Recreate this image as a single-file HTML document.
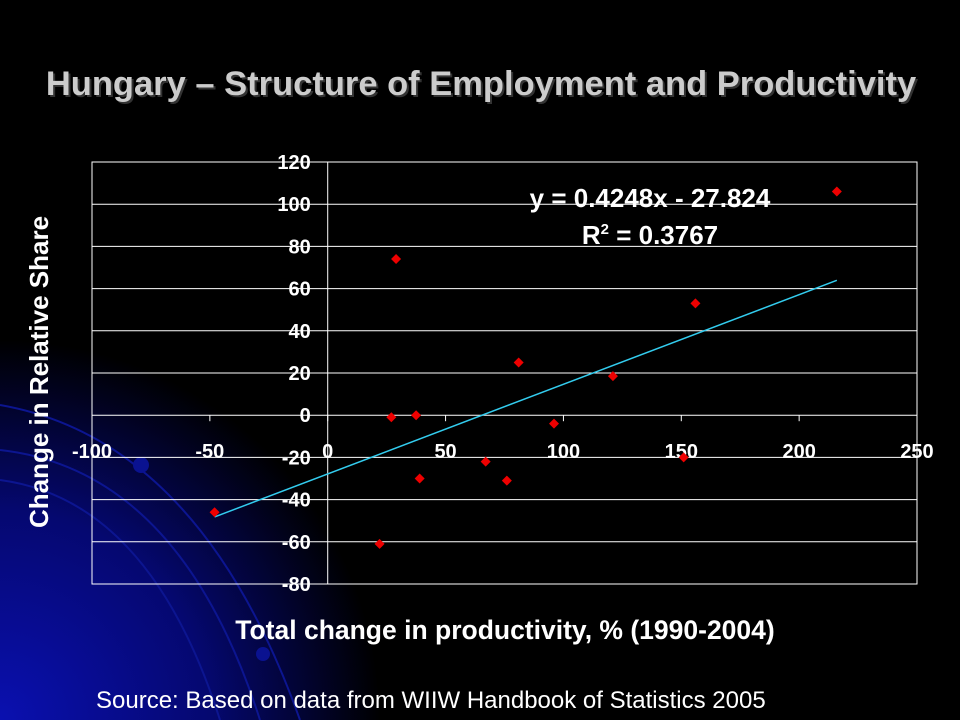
<!DOCTYPE html>
<html><head><meta charset="utf-8"><style>
html,body{margin:0;padding:0;background:#000;}
#wrap{position:relative;width:960px;height:720px;overflow:hidden;background:#000;font-family:"Liberation Sans",sans-serif;}
</style></head><body>
<div id="wrap">
<svg id="chart" width="960" height="720" xmlns="http://www.w3.org/2000/svg">
<defs>
<radialGradient id="bg" cx="0" cy="720" r="380" gradientUnits="userSpaceOnUse">
<stop offset="0" stop-color="#0a10b0"/><stop offset="0.55" stop-color="#050870"/><stop offset="1" stop-color="#000"/>
</radialGradient>
</defs>
<rect x="0" y="0" width="960" height="720" fill="url(#bg)"/>
<g fill="none" stroke="#0c1590" stroke-width="2">
<path d="M0,405 Q200,440 300,720"/>
<path d="M0,450 Q180,470 260,720"/>
<path d="M0,480 Q150,500 220,720"/>
</g>
<circle cx="141" cy="465" r="8" fill="#0a1290"/>
<circle cx="263" cy="654" r="7" fill="#0a1290"/>
<text x="481" y="95" text-anchor="middle" font-size="34.5" font-weight="bold" fill="#cccccc" style="text-shadow:2px 2px 0 #333">Hungary – Structure of Employment and Productivity</text>
<g id="plot"></g>
<text transform="translate(48,372) rotate(-90)" text-anchor="middle" font-size="26" font-weight="bold" fill="#fff">Change in Relative Share</text>
<text x="505" y="639" text-anchor="middle" font-size="26.5" font-weight="bold" fill="#fff">Total change in productivity, % (1990-2004)</text>
<text x="96" y="708" font-size="24" fill="#fff">Source: Based on data from WIIW Handbook of Statistics 2005</text>
<text x="650" y="207" text-anchor="middle" font-size="26" font-weight="bold" fill="#fff">y = 0.4248x - 27.824</text>
<text x="650" y="244" text-anchor="middle" font-size="26" font-weight="bold" fill="#fff">R<tspan dy="-10" font-size="15">2</tspan><tspan dy="10"> = 0.3767</tspan></text>
</svg>
</div>
<script>
const xVals=[216,29,156,81,121,27,37.5,96,39,67,76,151,-48,22];
const yVals=[106,74,53,25,18.5,-1,0,-4,-30,-22,-31,-20,-46,-61];
const xTicks=[-100,-50,0,50,100,150,200,250];
const yTicks=[120,100,80,60,40,20,0,-20,-40,-60,-80];
const slope=0.4248, intercept=-27.824;
const X0=92,X1=917,Y0=162,Y1=584;
const xMin=-100,xMax=250,yMin=-80,yMax=120;
function sx(v){return X0+(v-xMin)/(xMax-xMin)*(X1-X0);}
function sy(v){return Y1-(v-yMin)/(yMax-yMin)*(Y1-Y0);}
const NS="http://www.w3.org/2000/svg";
const g=document.getElementById('plot');
function mk(t,a){const e=document.createElementNS(NS,t);for(const k in a)e.setAttribute(k,a[k]);g.appendChild(e);return e;}
yTicks.forEach(v=>{
 const l=mk('line',{x1:X0,x2:X1,y1:sy(v),y2:sy(v),stroke:'#fff','stroke-width':1});
 
 
 const t=mk('text',{x:sx(0)-17,y:sy(v)+7,'text-anchor':'end','font-size':20,'font-weight':'bold',fill:'#fff'});
 t.textContent=v;
 
 
});
const b=mk('rect',{x:X0,y:Y0,width:X1-X0,height:Y1-Y0,fill:'none',stroke:'#fff','stroke-width':1});


const ya=mk('line',{x1:sx(0),x2:sx(0),y1:Y0,y2:Y1,stroke:'#fff','stroke-width':1});


xTicks.forEach(v=>{
 const tk=mk('line',{x1:sx(v),x2:sx(v),y1:sy(0),y2:sy(0)+6,stroke:'#fff'});
 
 
 const t=mk('text',{x:sx(v),y:sy(0)+43,'text-anchor':'middle','font-size':20,'font-weight':'bold',fill:'#fff'});
 t.textContent=v;
 
 
});
const xs=Math.min(...xVals), xe=Math.max(...xVals);
const tl=mk('line',{x1:sx(xs),y1:sy(slope*xs+intercept),x2:sx(xe),y2:sy(slope*xe+intercept),stroke:'#33ccee','stroke-width':1.5});


xVals.forEach((x,i)=>{
 const cx=sx(x),cy=sy(yVals[i]);
 const p=mk('polygon',{points:`${cx},${cy-5} ${cx+5},${cy} ${cx},${cy+5} ${cx-5},${cy}`,fill:'#ee0000'});
 
 
});
</script>
</body></html>
